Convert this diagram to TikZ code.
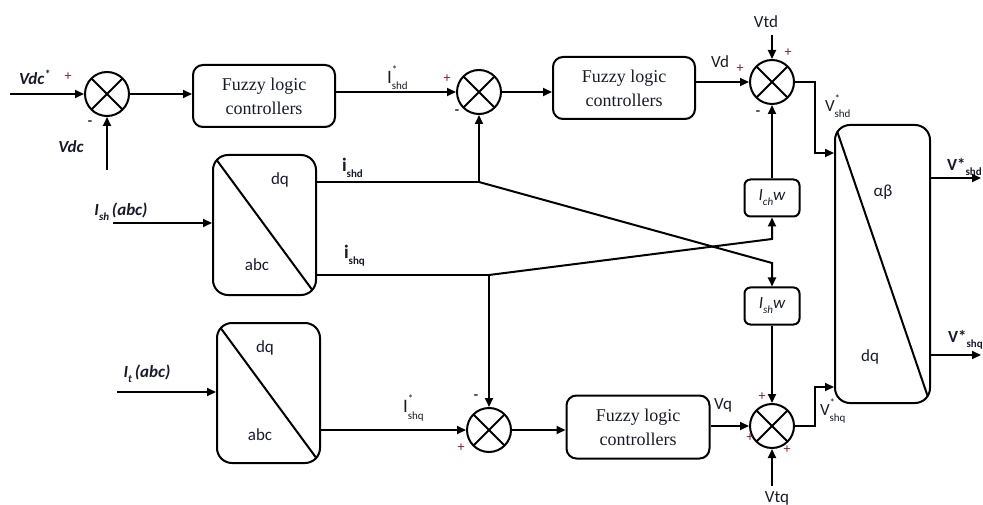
\documentclass[tikz,border=0pt]{standalone}
\usepackage{fontspec}
\setmainfont{Liberation Serif}
\newfontfamily\carl{Carlito}
\usetikzlibrary{arrows.meta}
\definecolor{pls}{RGB}{140,30,30}
\definecolor{ink}{RGB}{25,25,45}
\newcommand\smallfs{\fontsize{11}{11}\selectfont}
\newcommand\ssub[2]{#1\raisebox{-0.3em}{\smallfs #2}}
\newcommand\supsub[3]{#1\rlap{\raisebox{0.5em}{\smallfs #2}}\raisebox{-0.35em}{\smallfs #3}}
\begin{document}
\begin{tikzpicture}[x=1pt,y=-1pt,line width=2pt,
  arr/.style={-{Triangle[length=9pt,width=8pt]}},
  sumnode/.style={circle,draw,minimum size=44pt,inner sep=0pt,
    path picture={\draw (path picture bounding box.north west)--(path picture bounding box.south east)
      (path picture bounding box.north east)--(path picture bounding box.south west);}},
  flc/.style={draw,rounded corners=10pt,minimum width=142pt,minimum height=62pt,align=center,
    font=\fontsize{18}{24}\selectfont,text=ink},
  diagbox/.style={draw,rounded corners=15pt,
    path picture={\draw (path picture bounding box.north west)--(path picture bounding box.south east);}},
  conv/.style={diagbox,minimum width=103pt,minimum height=140pt},
  smallbox/.style={draw,rounded corners=6pt,minimum width=55pt,minimum height=37pt,inner sep=0pt,
    font=\carl\itshape\fontsize{17}{20}\selectfont,text=ink},
  lbl/.style={font=\carl\fontsize{17}{20}\selectfont,text=ink,inner sep=0pt},
  blbl/.style={font=\carl\bfseries\fontsize{17}{20}\selectfont,text=ink,inner sep=0pt},
  bilbl/.style={font=\carl\bfseries\itshape\fontsize{17}{20}\selectfont,text=ink,inner sep=0pt},
  sgn/.style={font=\carl\fontsize{14}{14}\selectfont,text=pls,inner sep=0pt},
  msgn/.style={font=\carl\bfseries\fontsize{14}{14}\selectfont,text=ink,inner sep=0pt}]
\useasboundingbox (0,0) rectangle (983,505);
% blocks
\node[sumnode] (s1) at (107,94) {};
\node[flc] (f1) at (264,96) {Fuzzy logic\\controllers};
\node[sumnode] (s2) at (479,92) {};
\node[flc] (f2) at (624,88) {Fuzzy logic\\controllers};
\node[sumnode] (s3) at (772,82) {};
\node[diagbox,minimum width=95pt,minimum height=278pt] (big) at (882.5,264) {};
\node[conv] (t1) at (264.5,225) {};
\node[conv] (t2) at (268.5,393) {};
\node[sumnode] (s5) at (489,430) {};
\node[flc,minimum width=143pt,minimum height=63pt] (f3) at (638,427) {Fuzzy logic\\controllers};
\node[sumnode] (s4) at (772,426) {};
\node[smallbox] (ich) at (772,198) {\ssub{I}{ch}w};
\node[smallbox] (ish) at (772,306) {\ssub{I}{sh}w};
% free ends
\coordinate (vdcs) at (10,94);
\coordinate (vdcin) at (107,170);
\coordinate (ishin) at (113,223);
\coordinate (itin) at (117,392);
\coordinate (vtdin) at (772,35);
\coordinate (vtqin) at (772,486);
\coordinate (jd) at (479,182);
\coordinate (jq) at (489,275);
\coordinate (dd) at (772,263);
\coordinate (dq2) at (772,239);
\coordinate (c1) at (815,153);
\coordinate (c2) at (815,387);
\coordinate (o1) at (981,178);
\coordinate (o2) at (981,355);
% connectors
\draw[arr] (vdcs) -- (s1.west);
\draw[arr] (vdcin) -- (s1.south);
\draw[arr] (s1.east) -- (s1.east -| f1.west);
\draw[arr] (s2.west -| f1.east) -- (s2.west);
\draw[arr] (s2.east) -- (s2.east -| f2.west);
\draw[arr] (s3.west -| f2.east) -- (s3.west);
\draw[arr] (vtdin) -- (s3.north);
\draw[arr] (s3.east) -| (c1) -- (c1 -| big.west);
\draw[arr] (ishin) -- (ishin -| t1.west);
\draw (jd -| t1.east) -- (jd);
\draw[arr] (jd) -- (s2.south);
\draw[arr] (jd) -- (dd) -- (ish.north);
\draw (jq -| t1.east) -- (jq);
\draw[arr] (jq) -- (s5.north);
\draw[arr] (jq) -- (dq2) -- (ich.south);
\draw[arr] (ich.north) -- (s3.south);
\draw[arr] (ish.south) -- (s4.north);
\draw[arr] (itin) -- (itin -| t2.west);
\draw[arr] (s5.west -| t2.east) -- (s5.west);
\draw[arr] (s5.east) -- (s5.east -| f3.west);
\draw[arr] (s4.west -| f3.east) -- (s4.west);
\draw[arr] (vtqin) -- (s4.south);
\draw[arr] (s4.east) -| (c2) -- (c2 -| big.west);
\draw[arr] (o1 -| big.east) -- (o1);
\draw[arr] (o2 -| big.east) -- (o2);
% texts in boxes
\node[lbl] (t1a) at (280,180) {dq};
\node[lbl] (t1b) at (257,265) {abc};
\node[lbl] (t2a) at (265,348) {dq};
\node[lbl] (t2b) at (260,435) {abc};
\node[lbl] (bga) at (883,192) {αβ};
\node[lbl] (bgb) at (870,357) {dq};
% signal labels
\node[bilbl] (lvdcs) at (35,77) {Vdc\textsuperscript{*}};
\node[bilbl] (lvdc) at (71,147) {Vdc};
\node[bilbl] (lish) at (121,212) {\ssub{I}{sh}\,(abc)};
\node[bilbl] (lit) at (147,374) {\ssub{I}{t}\,(abc)};
\node[lbl,anchor=west] (lishd) at (386,78) {\fontsize{19}{20}\selectfont\supsub{I}{*}{shd}};
\node[lbl,anchor=west] (lishq) at (402,408) {\fontsize{19}{20}\selectfont\supsub{I}{*}{shq}};
\node[blbl,anchor=west] (lid) at (341,168) {\fontsize{19}{20}\selectfont\ssub{i}{shd}};
\node[blbl,anchor=west] (liq) at (343,256) {\fontsize{19}{20}\selectfont\ssub{i}{shq}};
\node[lbl] (lvd) at (720,62) {Vd};
\node[lbl] (lvtd) at (766,22) {Vtd};
\node[lbl] (lvq) at (723,405) {Vq};
\node[lbl] (lvtq) at (777,498) {Vtq};
\node[lbl,anchor=west] (lvsd) at (824,106) {\supsub{V}{*}{shd}};
\node[lbl,anchor=west] (lvsq) at (819,411) {\supsub{V}{*}{shq}};
\node[blbl,anchor=west] (lod) at (946,167) {V*\raisebox{-0.3em}{\smallfs shd}};
\node[blbl,anchor=west] (loq) at (947,340) {V*\raisebox{-0.3em}{\smallfs shq}};
% signs
\node[sgn] (p1) at (68,77) {+};
\node[msgn] (m1) at (90,123) {-};
\node[sgn] (p2) at (447,79) {+};
\node[msgn] (m2) at (457,112) {-};
\node[sgn] (p3) at (740,69) {+};
\node[sgn] (p4) at (788,53) {+};
\node[msgn] (m3) at (758,113) {-};
\node[msgn] (m5) at (476,397) {-};
\node[sgn] (p5) at (461,448) {+};
\node[sgn] (p6) at (762,397) {+};
\node[sgn] (p7) at (750,438) {+};
\node[sgn] (p8) at (787,450) {+};
\end{tikzpicture}
\end{document}
